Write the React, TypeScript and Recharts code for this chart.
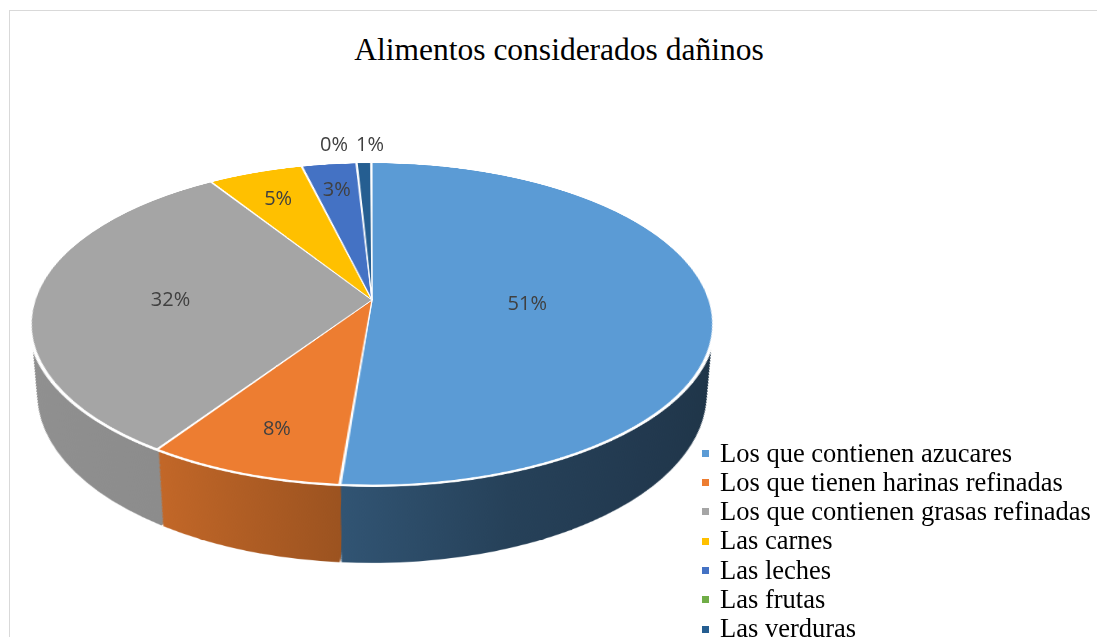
import { Cell, Legend, Pie, PieChart } from 'recharts';

const categories = [
  'Los que contienen azucares',
  'Los que tienen harinas refinadas',
  'Los que contienen grasas refinadas',
  'Las carnes',
  'Las leches',
  'Las frutas',
  'Las verduras',
];
// respuestas por categoría (estimadas del gráfico: 51%, 8%, 32%, 5%, 3%, 0%, 1%)
const counts = [70, 11, 43, 7, 4, 0, 1];
const colors = ['#5B9BD5', '#ED7D31', '#A5A5A5', '#FFC000', '#4472C4', '#70AD47', '#255E91'];

const data = categories.map((name, i) => ({ name, value: counts[i] }));

// 3D look: the flat pie is tilted with a CSS perspective, the side is a stack of
// pies drawn on the same plane, sized so they project like the bottom of a cylinder
const R = 337;
const TILT = 62.15;
const COS = Math.cos((TILT * Math.PI) / 180);
const SIN = Math.sin((TILT * Math.PI) / 180);
const DIST = 2000;
const DEPTH = 80.7;
const LAYERS = 64;
const PAD = 0.25;
const PLANE = 345;
const CX = 372;
const CY = 300;

const layers = Array.from({ length: LAYERS }, (_, j) => {
  const h = (DEPTH * (LAYERS - j)) / LAYERS;
  const t = (DIST * COS) / (DIST * COS + h);
  return { shift: DIST * SIN * (1 - t), radius: R * t };
});

// shading of each slice's side, left to right over the slice
const sideShades: number[][][] = [
  [[0, 0.54], [0.4, 0.42], [0.75, 0.37], [1, 0.34]],
  [[0, 0.82], [0.85, 0.66], [1, 0.64]],
  [[0, 0.87], [1, 0.82]],
  [[0, 0.8], [1, 0.6]],
  [[0, 0.8], [1, 0.6]],
  [[0, 0.8], [1, 0.6]],
  [[0, 0.8], [1, 0.6]],
];

function shade(hex: string, f: number) {
  const n = parseInt(hex.slice(1), 16);
  const r = Math.round(((n >> 16) & 255) * f);
  const g = Math.round(((n >> 8) & 255) * f);
  const b = Math.round((n & 255) * f);
  return `rgb(${r},${g},${b})`;
}

function project(lx: number, ly: number) {
  const k = DIST / (DIST - ly * SIN);
  return [CX + lx * k, CY + ly * COS * k];
}

const labelStyle = { fontFamily: '"Open Sans", sans-serif', fontSize: 20, fill: '#404040' };

function renderLabel(p: any) {
  const rad = (-p.midAngle * Math.PI) / 180;
  const text = `${Math.round(p.percent * 100)}%`;
  if (p.percent < 0.02) {
    const [x, y] = project(R * Math.cos(rad), R * Math.sin(rad));
    return (
      <text
        x={x - 8}
        y={y - 20}
        textAnchor={p.value === 0 ? 'end' : 'start'}
        dominantBaseline="central"
        style={labelStyle}
      >
        {text}
      </text>
    );
  }
  const f = 0.82 - 0.7 * p.percent;
  const [x, y] = project(f * R * Math.cos(rad), f * R * Math.sin(rad));
  return (
    <text x={x} y={y} textAnchor="middle" dominantBaseline="central" style={labelStyle}>
      {text}
    </text>
  );
}

function renderLegend(props: any) {
  const items = [...(props.payload ?? [])].sort(
    (a: any, b: any) => categories.indexOf(a.value) - categories.indexOf(b.value),
  );
  return (
    <div style={{ fontFamily: '"Liberation Serif", "Times New Roman", serif', fontSize: 26.5, lineHeight: '29.3px', color: '#000' }}>
      {items.map((it: any) => {
        const i = categories.indexOf(it.value);
        return (
          <div key={it.value} style={{ display: 'flex', alignItems: 'center', whiteSpace: 'nowrap' }}>
            <span style={{ display: 'inline-block', width: 7, height: 7, marginLeft: 2, marginRight: 11, background: colors[i] }} />
            <span>{it.value}</span>
          </div>
        );
      })}
    </div>
  );
}

const noMargin = { top: 0, right: 0, bottom: 0, left: 0 };

export default function App() {
  return (
    <div style={{ position: 'absolute', left: 0, top: 0, width: 1097, height: 637, overflow: 'hidden', background: '#fff' }}>
      <svg width={0} height={0} style={{ position: 'absolute' }}>
        <defs>
          {colors.map((c, i) => (
            <linearGradient key={i} id={`side-${i}`} x1={0} y1={0} x2={1} y2={0}>
              {sideShades[i].map(([o, f]) => (
                <stop key={o} offset={`${o * 100}%`} stopColor={shade(c, f)} />
              ))}
            </linearGradient>
          ))}
        </defs>
      </svg>

      <div style={{ position: 'absolute', left: 9, top: 10, width: 1200, height: 800, border: '1px solid #d9d9d9' }} />

      <div
        style={{
          position: 'absolute',
          left: CX - PLANE,
          top: CY - PLANE,
          width: 690,
          height: 810,
          transformOrigin: `${PLANE}px ${PLANE}px`,
          transform: `perspective(${DIST}px) rotateX(${TILT}deg)`,
        }}
      >
        <PieChart width={690} height={810} margin={noMargin}>
          {layers.map((l, j) => (
            <Pie
              key={j}
              data={data}
              dataKey="value"
              cx={PLANE}
              cy={PLANE + l.shift}
              outerRadius={l.radius}
              startAngle={90}
              endAngle={-270}
              paddingAngle={PAD}
              stroke="none"
              isAnimationActive={false}
            >
              {data.map((_, i) => (
                <Cell key={i} fill={`url(#side-${i})`} />
              ))}
            </Pie>
          ))}
          <Pie
            data={data}
            dataKey="value"
            cx={PLANE}
            cy={PLANE}
            outerRadius={R + 2.5}
            startAngle={90}
            endAngle={-270}
            fill="#ffffff"
            stroke="#ffffff"
            strokeWidth={1}
            isAnimationActive={false}
          />
          <Pie
            data={data}
            dataKey="value"
            cx={PLANE}
            cy={PLANE}
            outerRadius={R}
            startAngle={90}
            endAngle={-270}
            paddingAngle={PAD}
            stroke="#ffffff"
            strokeWidth={1.2}
            isAnimationActive={false}
          >
            {data.map((_, i) => (
              <Cell key={i} fill={colors[i]} />
            ))}
          </Pie>
        </PieChart>
      </div>

      <svg width={1097} height={90} style={{ position: 'absolute', left: 0, top: 0 }}>
        <text
          x={559}
          y={60}
          textAnchor="middle"
          style={{ fontFamily: '"Liberation Serif", "Times New Roman", serif', fontSize: 31.5, fill: '#000' }}
        >
          Alimentos considerados dañinos
        </text>
      </svg>

      <div style={{ position: 'absolute', left: 0, top: 0 }}>
        <PieChart width={1097} height={637} margin={noMargin}>
          <Pie
            data={data}
            dataKey="value"
            cx={CX}
            cy={CY}
            outerRadius={R}
            startAngle={90}
            endAngle={-270}
            paddingAngle={PAD}
            stroke="none"
            label={renderLabel}
            labelLine={false}
            isAnimationActive={false}
          >
            {data.map((_, i) => (
              <Cell key={i} fill={colors[i]} fillOpacity={0} />
            ))}
          </Pie>
          <Legend
            layout="vertical"
            align="right"
            verticalAlign="top"
            content={renderLegend}
            wrapperStyle={{ left: 700, top: 438.6, right: 'auto', width: 397 }}
          />
        </PieChart>
      </div>
    </div>
  );
}
